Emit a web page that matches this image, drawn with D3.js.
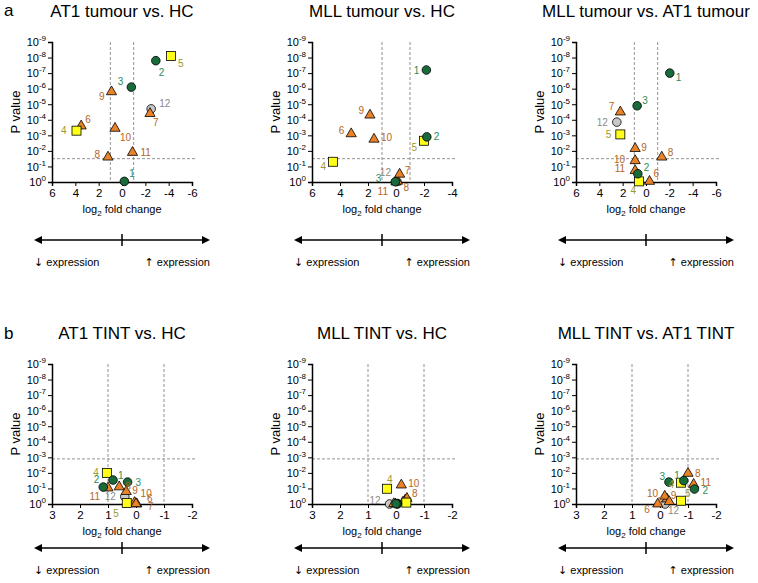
<!DOCTYPE html>
<html><head><meta charset="utf-8">
<script src="https://cdn.jsdelivr.net/npm/d3@7"></script>
<style>body{margin:0;background:#fff}text{font-family:"Liberation Sans",Arial,sans-serif}</style>
</head><body><div id="root"></div>
<script>
// gene ids 1..12, shape/colour group per gene
const genes = [1,2,3,4,5,6,7,8,9,10,11,12];
const groups = ['g','g','g','y','y','o','o','o','o','o','o','s'];

const titles = ['AT1 tumour vs. HC','MLL tumour vs. HC','MLL tumour vs. AT1 tumour',
                'AT1 TINT vs. HC','MLL TINT vs. HC','MLL TINT vs. AT1 TINT'];
const xDomains = [[6,-6],[6,-4],[6,-6],[3,-2],[3,-2],[3,-2]];
const xTicks = [[6,4,2,0,-2,-4,-6],[6,4,2,0,-2,-4],[6,4,2,0,-2,-4,-6],[3,2,1,0,-1,-2],[3,2,1,0,-1,-2],[3,2,1,0,-1,-2]];
const pThresh = [1.5,1.5,1.5,2.9,2.9,2.9]; // -log10 p cutoffs
const yTicks = [0,1,2,3,4,5,6,7,8,9];

// log2 fold change per gene
const fc = [
  [-0.2,-2.9,-0.8,3.9,-4.2,3.5,-2.4,1.2,0.9,0.6,-0.9,-2.5],
  [-2.17,-2.2,0.05,4.5,-2.0,3.2,-0.26,-0.1,1.86,1.57,0.0,-0.07],
  [-2.04,0.7,0.76,0.6,2.2,-0.3,2.2,-1.35,0.93,0.93,0.93,2.5],
  [0.82,1.17,0.3,1.04,0.33,0.0,-0.03,0.6,0.35,0.05,1.0,0.4],
  [0.0,-0.05,-0.05,0.32,-0.37,0.08,-0.25,-0.39,-0.33,-0.19,0.02,0.23],
  [-0.85,-1.23,-0.32,-0.75,-0.75,0.08,-0.33,-1.0,-0.17,-0.25,-1.2,-0.18]
];
// -log10 P value per gene
const nlp = [
  [0.04,7.8,6.1,3.3,8.1,3.6,4.4,1.6,5.8,3.45,1.9,4.7],
  [7.2,2.9,0.02,1.3,2.65,3.1,0.5,0.05,4.3,2.75,0.0,0.03],
  [7.0,0.53,4.9,0.04,3.06,0.04,4.5,1.6,2.15,1.37,0.73,3.85],
  [1.54,1.09,1.41,2.0,0.06,0.02,0.0,1.1,0.8,0.1,1.03,0.47],
  [0.02,0.0,0.03,0.98,0.09,0.02,0.12,0.36,0.26,1.22,0.0,0.0],
  [1.5,0.96,1.41,1.37,0.21,0.0,0.15,1.97,0.5,0.32,1.26,0.0]
];
// label offsets [dx,dy] per gene
const labOff = [
  [[5,-8],[3,12],[-8,-6],[-10,0],[7,7],[4,-7],[3,9],[-8,-3],[-7,5],[5,9],[8,0],[8,-5]],
  [[-7,0],[7,0],[-14,-3],[-7,5],[-7,7],[-7,-3],[5,-4],[6,6],[-6,-5],[7,-2],[-8,9],[-6,-9]],
  [[6,4],[6,-6],[5,-5],[-3,9],[-9,0],[4,-8],[-6,-6],[6,-5],[6,-1],[-10,-1],[-10,-2],[-9,0]],
  [[5,-5],[-4,-8],[8,0],[-8,0],[-8,10],[11,-5],[11,2],[6,0],[6,-1],[6,-9],[-8,9],[-9,0]],
  [[0,0],[0,0],[0,0],[0,-9],[0,0],[0,0],[0,0],[5,-5],[0,0],[7,-2],[0,0],[-9,-4]],
  [[-4,-5],[8,1],[-4,-6],[-7,2],[4,-7],[-8,5],[-6,0],[7,0],[6,-1],[-9,-6],[7,-2],[3,6]]
];
const showLab = [
  genes.map(() => true),
  genes.map(() => true),
  genes.map(() => true),
  genes.map(() => true),
  [0,0,0,1,0,0,0,1,0,1,0,1].map(Boolean),
  genes.map(() => true)
];

const fill = {g:'#1a6b3a', y:'#ffff1a', o:'#e8832a', s:'#c8c8c8'};
const labCol = {g:'#2e8b57', y:'#9a9a2e', o:'#b5651d', s:'#8a8a8a'};

const svg = d3.select('#root').append('svg').attr('width',758).attr('height',583);

const colX = [52,312,576], W = 140, H = 140;
const rowY = [42,364];
const arrowOff = [58,44];

function tickLabel(sel, base, exp) {
  sel.text(base).append('tspan').attr('dy',-5).attr('font-size',8).text(exp);
}

titles.forEach((t, i) => {
  const row = Math.floor(i / 3);
  const px = colX[i % 3], py = rowY[row];
  const x = d3.scaleLinear().domain(xDomains[i]).range([0, W]);
  const y = d3.scaleLinear().domain([0, 9]).range([H, 0]);
  const g = svg.append('g').attr('transform', `translate(${px},${py})`);

  g.append('text').attr('x', W/2).attr('y', -25).attr('text-anchor','middle')
    .attr('font-size',17).text(t);

  // thresholds
  [1,-1].forEach(v => g.append('line').attr('x1',x(v)).attr('x2',x(v)).attr('y1',0).attr('y2',H)
    .attr('stroke','#777').attr('stroke-dasharray','3,2').attr('stroke-width',0.8));
  g.append('line').attr('x1',0).attr('x2',W+5).attr('y1',y(pThresh[i])).attr('y2',y(pThresh[i]))
    .attr('stroke','#777').attr('stroke-dasharray','3,2').attr('stroke-width',0.8);

  const xa = g.append('g').attr('transform',`translate(0,${H})`)
    .call(d3.axisBottom(x).tickValues(xTicks[i]).tickSize(4).tickFormat(d => String(d)));
  xa.selectAll('text').attr('font-size',11.5).attr('fill','#000');
  xa.select('.domain').attr('stroke-width',1.5);

  const ya = g.append('g').call(d3.axisLeft(y).tickValues(yTicks).tickSize(4).tickFormat(''));
  ya.select('.domain').attr('stroke-width',1.5);
  ya.selectAll('.tick').append('text').attr('x',-6).attr('dy','0.35em').attr('text-anchor','end')
    .attr('font-size',11).attr('fill','#000').each(function(d){ tickLabel(d3.select(this),'10', d ? '-' + d : '0'); });

  g.append('text').attr('transform',`translate(-32,${H/2}) rotate(-90)`).attr('text-anchor','middle')
    .attr('font-size',13).text('P value');
  const xl = g.append('text').attr('x',W/2).attr('y',H+31).attr('text-anchor','middle').attr('font-size',11).text('log');
  xl.append('tspan').attr('dy',3).attr('font-size',8).text('2');
  xl.append('tspan').attr('dy',-3).text(' fold change');

  // points (draw in reverse so low ids on top)
  const pts = genes.map((id, k) => ({id, grp: groups[k], fx: fc[i][k], ny: nlp[i][k], off: labOff[i][k], show: showLab[i][k]}));
  pts.slice().reverse().forEach(p => {
    const cx = x(p.fx), cy = y(p.ny);
    if (p.grp === 'y') g.append('rect').attr('x',cx-4.5).attr('y',cy-4.5).attr('width',9).attr('height',9)
      .attr('fill',fill.y).attr('stroke','#000').attr('stroke-width',0.8);
    else if (p.grp === 'o') g.append('path').attr('d',d3.symbol(d3.symbolTriangle,45)())
      .attr('transform',`translate(${cx},${cy})`).attr('fill',fill.o).attr('stroke','#000').attr('stroke-width',0.8);
    else g.append('circle').attr('cx',cx).attr('cy',cy).attr('r',4.3)
      .attr('fill',fill[p.grp]).attr('stroke','#000').attr('stroke-width',0.8);
  });
  pts.forEach(p => {
    if (!p.show) return;
    g.append('text').attr('x',x(p.fx)+p.off[0]).attr('y',y(p.ny)+p.off[1]).attr('dy','0.35em')
      .attr('text-anchor',p.off[0] < 0 ? 'end' : 'start').attr('font-size',10)
      .attr('fill',labCol[p.grp]).text(p.id);
  });

  // expression arrow
  const ay = H + arrowOff[row], cx0 = W/2;
  const ar = g.append('g').attr('stroke','#000').attr('stroke-width',1.5);
  ar.append('line').attr('x1',cx0-84).attr('x2',cx0+84).attr('y1',ay).attr('y2',ay);
  ar.append('line').attr('x1',cx0).attr('x2',cx0).attr('y1',ay-6).attr('y2',ay+6);
  g.append('path').attr('d',`M${cx0-88},${ay}l8,-4l0,8z`).attr('fill','#000');
  g.append('path').attr('d',`M${cx0+88},${ay}l-8,-4l0,8z`).attr('fill','#000');
  const lt = g.append('text').attr('x',cx0-88).attr('y',ay+26).attr('font-size',11).attr('fill','#000');
  lt.append('tspan').attr('font-family','DejaVu Sans').attr('fill','#000').text('\u2193');
  lt.append('tspan').text(' expression');
  const rt = g.append('text').attr('x',cx0+88).attr('y',ay+26).attr('text-anchor','end').attr('font-size',11).attr('fill','#000');
  rt.append('tspan').attr('font-family','DejaVu Sans').attr('fill','#000').text('\u2191');
  rt.append('tspan').text(' expression');
});

svg.append('text').attr('x',4).attr('y',16).attr('font-size',17).text('a');
svg.append('text').attr('x',4).attr('y',339).attr('font-size',17).text('b');
</script></body></html>
